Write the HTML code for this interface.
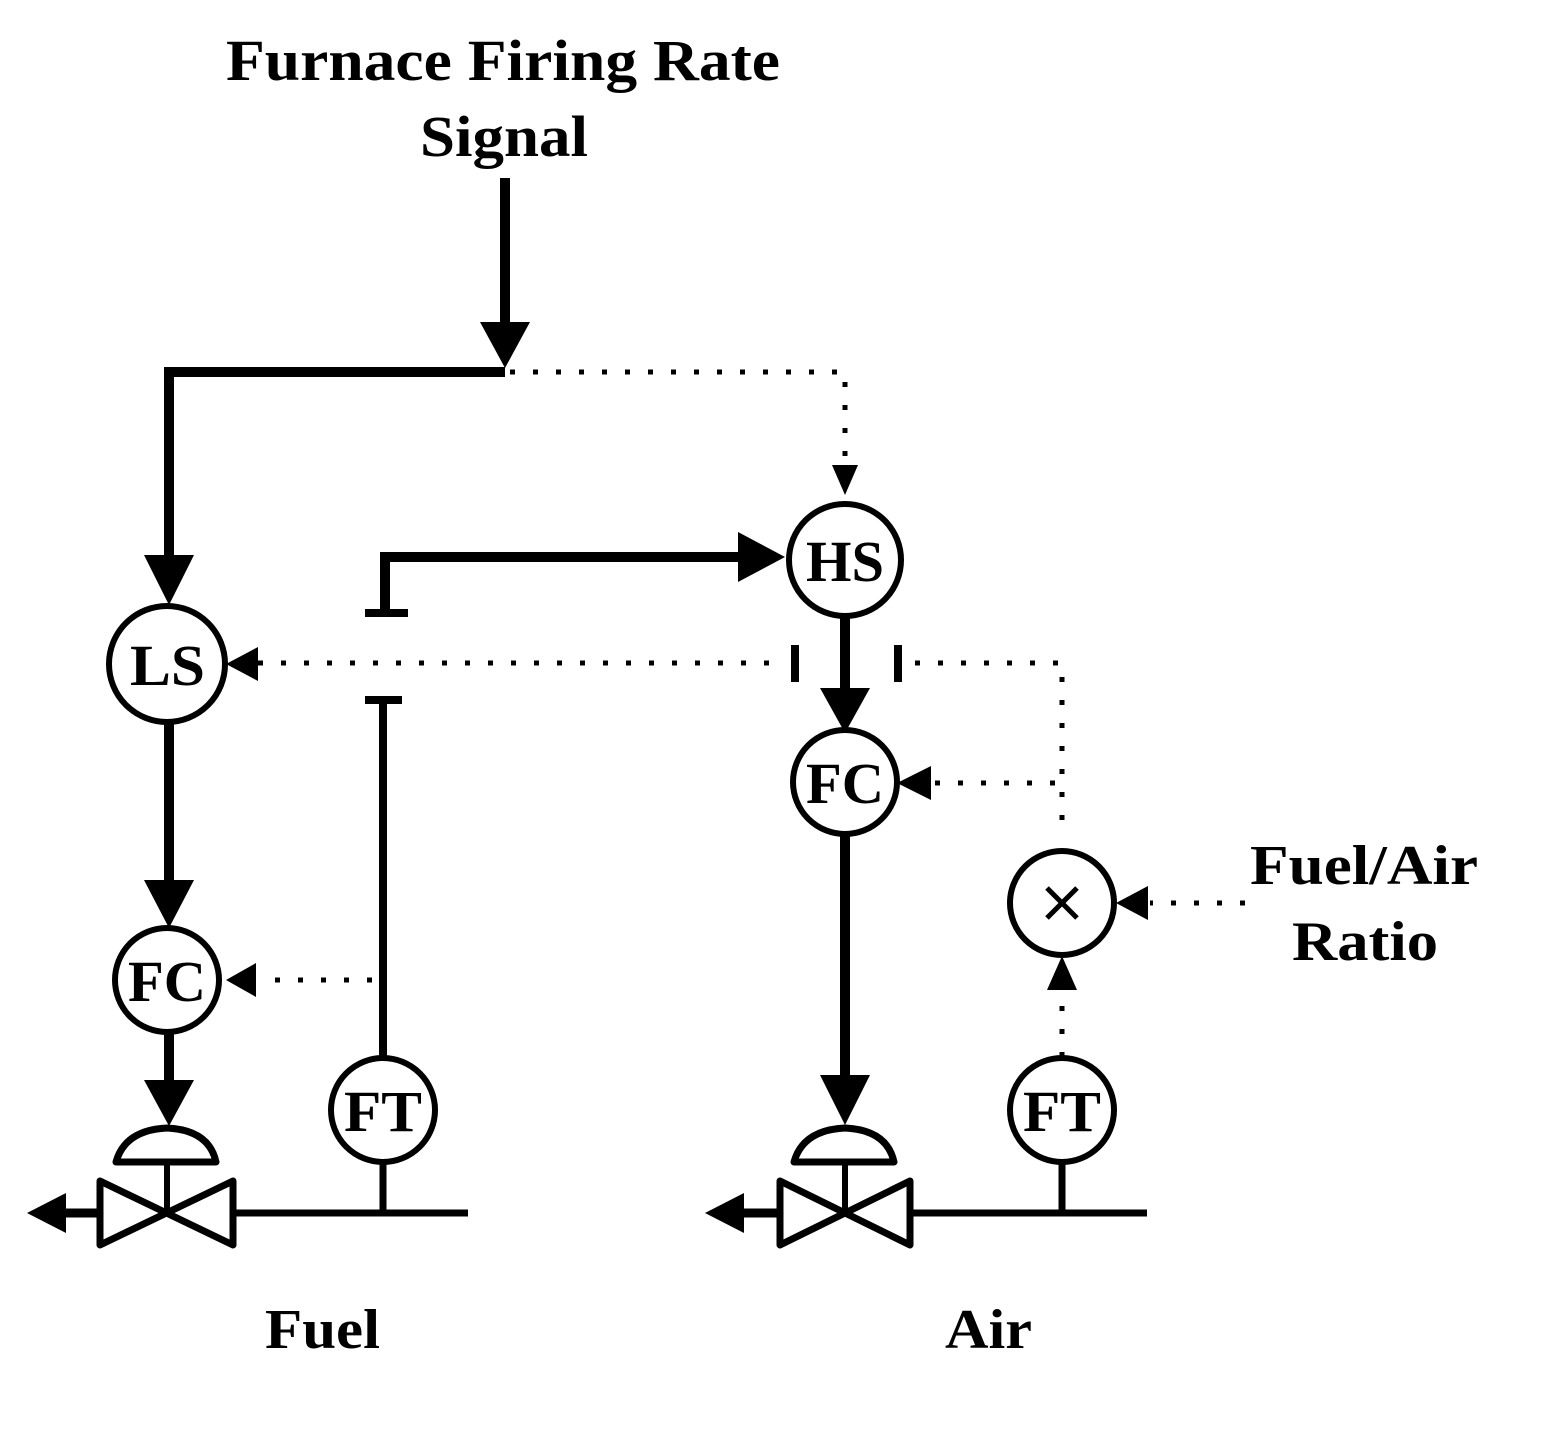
<!DOCTYPE html>
<html><head><meta charset="utf-8"><style>html,body{margin:0;padding:0;background:#fff}svg{display:block}</style></head>
<body>
<svg width="1543" height="1431" viewBox="0 0 1543 1431" xmlns="http://www.w3.org/2000/svg">
<g font-family="'Liberation Serif', serif" font-weight="bold" fill="#000" lengthAdjust="spacingAndGlyphs">
<text x="226" y="80" font-size="58" textLength="554" lengthAdjust="spacingAndGlyphs">Furnace Firing Rate</text>
<text x="420" y="156" font-size="58" textLength="168" lengthAdjust="spacingAndGlyphs">Signal</text>
<text x="1250" y="884" font-size="56" textLength="228" lengthAdjust="spacingAndGlyphs">Fuel/Air</text>
<text x="1292" y="960" font-size="56" textLength="146" lengthAdjust="spacingAndGlyphs">Ratio</text>
<text x="265" y="1348" font-size="56" textLength="115" lengthAdjust="spacingAndGlyphs">Fuel</text>
<text x="945" y="1348" font-size="56" textLength="87" lengthAdjust="spacingAndGlyphs">Air</text>
</g>
<g stroke="#000" fill="none">
<g stroke-width="10">
<path d="M505 178V330"/>
<path d="M505 372H169V560"/>
<path d="M169 723V885"/>
<path d="M169 1033V1085"/>
<path d="M385 612V557H745"/>
<path d="M845 618V695"/>
<path d="M845 835V1080"/>
</g>
<g stroke-width="8">
<path d="M365 613H408"/>
<path d="M365 700H402"/>
<path d="M383 700V1060"/>
<path d="M795 645V682"/>
<path d="M898 645V682"/>
</g>
<g stroke-width="5" stroke-dasharray="5 18">
<path d="M510 372H845V470"/>
<path d="M258 663H785"/>
<path d="M915 663H1062V835"/>
<path d="M935 783H1062"/>
<path d="M372 980H258"/>
<path d="M1062 1057V990"/>
<path d="M1245 903H1150"/>
</g>
<g stroke-width="6" fill="#fff">
<circle cx="167" cy="664" r="58"/>
<circle cx="845" cy="560" r="56"/>
<circle cx="845" cy="782" r="52"/>
<circle cx="167" cy="980" r="52"/>
<circle cx="383" cy="1110" r="52"/>
<circle cx="1062" cy="1110" r="52"/>
<circle cx="1062" cy="903" r="52"/>
</g>
<path d="M1047 888L1077 918M1077 888L1047 918" stroke-width="5"/>
<g stroke-width="7">
<path d="M235 1213H468M383 1162V1213"/>
<path d="M912 1213H1147M1062 1162V1213"/>
<path d="M65 1213H98" stroke-width="9"/>
<path d="M740 1213H778" stroke-width="9"/>
<path d="M100 1181L233 1245V1181L100 1245Z" stroke-linejoin="round"/>
<path d="M780 1181L910 1245V1181L780 1245Z" stroke-linejoin="round"/>
<path d="M167 1163V1213M845 1163V1213" stroke-width="6"/>
<path d="M116 1162Q125 1130 167 1128Q209 1130 216 1162Z" stroke-linejoin="round"/>
<path d="M794 1162Q803 1130 845 1128Q887 1130 894 1162Z" stroke-linejoin="round"/>
</g>
</g>
<g fill="#000">
<path d="M480 322H530L505 368Z"/>
<path d="M144 555H194L169 605Z"/>
<path d="M144 880H194L169 928Z"/>
<path d="M144 1080H194L169 1126Z"/>
<path d="M820 688H870L845 733Z"/>
<path d="M820 1075H870L845 1125Z"/>
<path d="M832 465H858L845 495Z"/>
<path d="M738 532V582L785 557Z"/>
<path d="M258 647V681L226 664Z"/>
<path d="M931 766V800L897 783Z"/>
<path d="M256 963V997L226 980Z"/>
<path d="M1148 886V920L1116 903Z"/>
<path d="M1047 990H1077L1062 956Z"/>
<path d="M66 1193V1233L27 1213Z"/>
<path d="M744 1193V1233L705 1213Z"/>
</g>
<g font-family="'Liberation Serif', serif" font-weight="bold" fill="#000" font-size="58">
<text x="130" y="685" textLength="75" lengthAdjust="spacingAndGlyphs">LS</text>
<text x="806" y="581" textLength="78" lengthAdjust="spacingAndGlyphs">HS</text>
<text x="806" y="803" textLength="78" lengthAdjust="spacingAndGlyphs">FC</text>
<text x="128" y="1001" textLength="78" lengthAdjust="spacingAndGlyphs">FC</text>
<text x="344" y="1131" textLength="78" lengthAdjust="spacingAndGlyphs">FT</text>
<text x="1023" y="1131" textLength="78" lengthAdjust="spacingAndGlyphs">FT</text>
</g>
</svg>
</body></html>
